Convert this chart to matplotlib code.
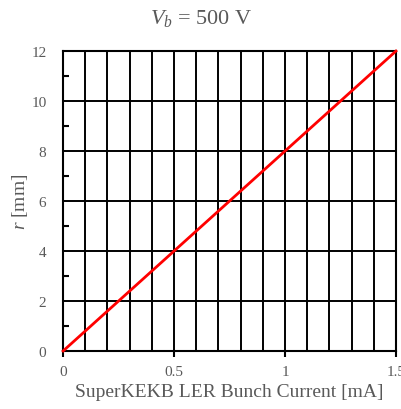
import matplotlib
matplotlib.use("Agg")
import matplotlib.pyplot as plt
import numpy as np

# bunch current [mA] vs radius [mm]
current = [0.0, 1.5]
radius = [0.0, 12.0]

grey = "#595959"
plt.rcParams["font.family"] = ["Liberation Serif", "DejaVu Serif"]
plt.rcParams["mathtext.fontset"] = "custom"
plt.rcParams["mathtext.it"] = "Liberation Serif:italic"
plt.rcParams["mathtext.rm"] = "Liberation Serif"

fig = plt.figure(figsize=(4.02, 4.10), dpi=100)
ax = fig.add_axes([0.157, 0.1415, 0.828, 0.7315])

for xv in np.arange(0.1, 1.5, 0.1):
    ax.axvline(xv, color="black", lw=1.4, zorder=1)
for yv in range(2, 12, 2):
    ax.axhline(yv, color="black", lw=1.4, zorder=1)

ax.plot(current, radius, color="#ff0000", lw=2, zorder=3, clip_on=False)

ax.set_xlim(0, 1.5)
ax.set_ylim(0, 12)
ax.set_xticks([0, 0.5, 1, 1.5])
ax.set_xticklabels(["0", "0.5", "1", "1.5"])
ax.set_yticks(range(0, 13, 2))
ax.set_yticks(range(1, 12, 2), minor=True)
ax.tick_params(axis="x", direction="out", length=4, width=1.5, colors="black",
               labelcolor=grey, labelsize=11, pad=6)
ax.tick_params(axis="y", which="major", length=0, labelcolor=grey, labelsize=11, pad=12)
ax.tick_params(axis="y", which="minor", direction="in", length=4, width=1.5)
for s in ax.spines.values():
    s.set_linewidth(1.5)
    s.set_color("black")

ax.set_xlabel("SuperKEKB LER Bunch Current [mA]", color=grey, fontsize=14, labelpad=4)
ax.set_ylabel("$r$ [mm]", color=grey, fontsize=14, labelpad=1)
fig.text(0.5, 0.955, "$V_b$ = 500 V", color=grey, fontsize=16, ha="center", va="center")

fig.savefig("out.png", dpi=100)
